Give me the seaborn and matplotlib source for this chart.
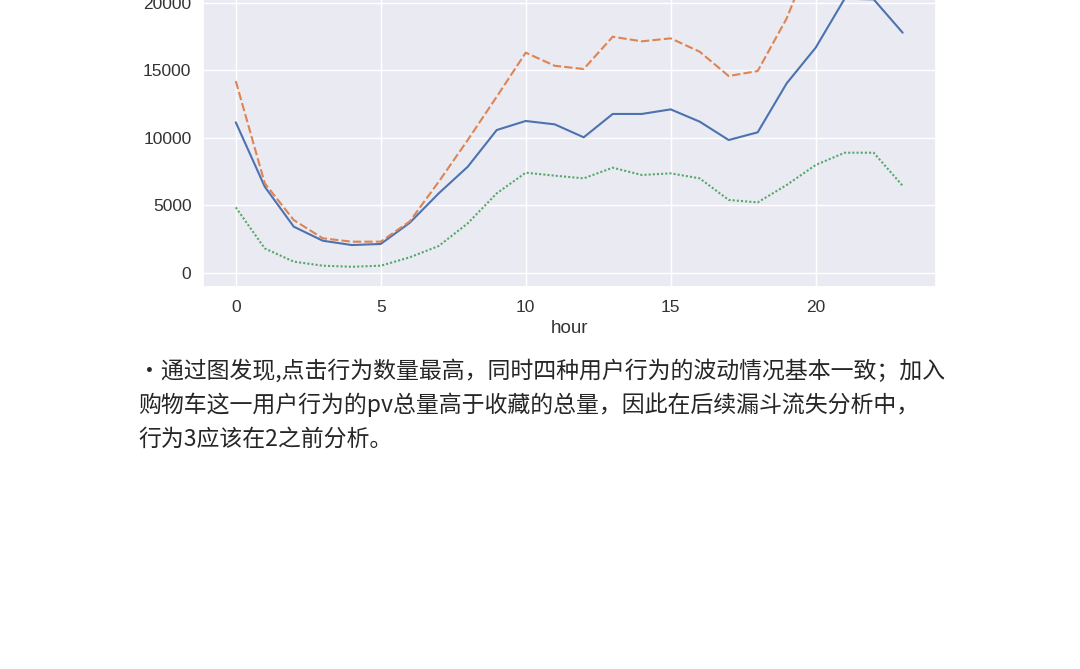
import numpy as np
import pandas as pd
import matplotlib
matplotlib.use("Agg")
import matplotlib.pyplot as plt
import seaborn as sns

hours = list(range(24))
series_a = [11140, 6370, 3410, 2370, 2050, 2130, 3700, 5880, 7850, 10570, 11240, 10990,
            10030, 11760, 11760, 12100, 11190, 9830, 10400, 14030, 16670, 20300, 20250, 17780]
series_b = [14200, 6620, 3900, 2550, 2300, 2300, 3800, 6740, 9830, 13040, 16300, 15330,
            15090, 17480, 17140, 17360, 16370, 14570, 14940, 18840, 24200, 29800, 30600, 25700]
series_c = [4840, 1800, 820, 520, 440, 520, 1140, 1980, 3660, 5880, 7410, 7190,
            6990, 7780, 7240, 7360, 6990, 5390, 5210, 6500, 7980, 8890, 8890, 6440]
names = ["1", "2", "3"]
yticks = [0, 5000, 10000, 15000, 20000, 25000, 30000]
text_lines = [
    "·通过图发现,点击行为数量最高，同时四种用户行为的波动情况基本一致；加入",
    "购物车这一用户行为的pv总量高于收藏的总量，因此在后续漏斗流失分析中，",
    "行为3应该在2之前分析。",
]

sns.set_theme(style="darkgrid")
plt.rcParams["font.family"] = ["Liberation Sans", "DejaVu Sans"]

df = pd.DataFrame({names[0]: series_a, names[1]: series_b, names[2]: series_c}, index=hours)
df.index.name = "hour"

fig = plt.figure(figsize=(10.8, 6.69), dpi=100)
fig.patch.set_facecolor("white")

y_bottom, y_top = -1080, 31000
px_per_unit = 0.0135
ax_h_px = (y_top - y_bottom) * px_per_unit
ax_bottom_px = 287.3
ax = fig.add_axes([203.3 / 1080, 1 - ax_bottom_px / 669, (936 - 203.3) / 1080, ax_h_px / 669])

sns.lineplot(data=df, ax=ax, legend=False, linewidth=1.5)
ax.set_ylim(y_bottom, y_top)
ax.set_xlim(-1.12, 24.15)
ax.set_yticks(yticks)
ax.set_xticks([0, 5, 10, 15, 20])
ax.set_xlabel("hour", fontsize=13.5, color="#333333", labelpad=4)
ax.set_ylabel("")
ax.tick_params(axis="both", labelsize=12.5, colors="#333333", length=0)
ax.tick_params(axis="x", pad=9)
ax.tick_params(axis="y", pad=8.5)

ys = [371, 405, 439]
for t, y in zip(text_lines, ys):
    fig.text(138 / 1080, 1 - y / 669, t, fontsize=16.5, color="#262626", va="center", ha="left",
             family=["Noto Sans CJK SC", "DejaVu Sans"])

fig.savefig("out.png", dpi=100)
